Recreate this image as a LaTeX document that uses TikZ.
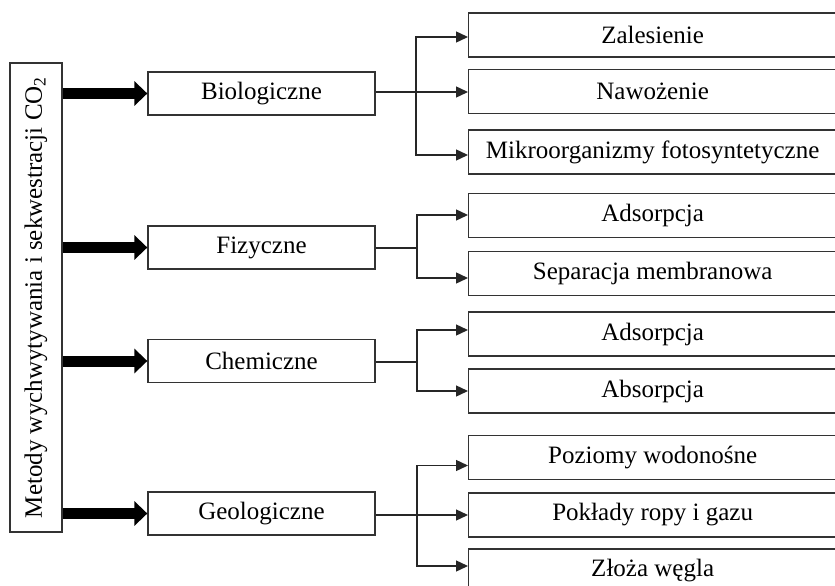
\documentclass[tikz,border=0pt]{standalone}
\usepackage{fontspec}
\setmainfont{Liberation Serif}
\usepackage{tikz}
\usetikzlibrary{arrows.meta,positioning}

\begin{document}
\begin{tikzpicture}[x=1pt,y=-1pt,
	box/.style={draw=black!80,line width=1.3pt,rectangle,inner sep=0pt,font=\fontsize{25}{30}\selectfont},
	catbox/.style={box,minimum width=227pt,minimum height=43pt},
	leaf/.style={box,anchor=west,minimum width=368pt,minimum height=44pt},
	fat/.style={line width=11pt,-{Triangle[length=13pt,width=24pt]}},
	thin/.style={line width=1.4pt,black!85,-{Triangle[length=12pt,width=11pt]}}]
	\clip (0,0) rectangle (835,586);
	\node[box,rotate=90,minimum width=469pt,minimum height=52pt] (M) at (36,297.5) {Metody wychwytywania i sekwestracji CO\textsubscript{2}};
	%
	\node[catbox] (B) at (261.5,93.5) {Biologiczne};
	\node[catbox] (F) at (261.5,247.5) {Fizyczne};
	\node[catbox] (C) at (261.5,361) {Chemiczne};
	\node[catbox] (G) at (261.5,513.5) {Geologiczne};
	%
	\node[leaf] (Z) at (468,35) {Zalesienie};
	\node[leaf] (N) at (468,91.5) {Nawożenie};
	\node[leaf] (Mk) at (468,152) {Mikroorganizmy fotosyntetyczne};
	\node[leaf] (A1) at (468,215.5) {Adsorpcja};
	\node[leaf] (S) at (468,273.5) {Separacja membranowa};
	\node[leaf] (A2) at (468,334) {Adsorpcja};
	\node[leaf] (Ab) at (468,391) {Absorpcja};
	\node[leaf] (P) at (468,457.5) {Poziomy wodonośne};
	\node[leaf] (R) at (468,515) {Pokłady ropy i gazu};
	\node[leaf] (W) at (468,571) {Złoża węgla};
	%
	\coordinate (bj) at (416,92);
	\coordinate (fj) at (417,248);
	\coordinate (cj) at (417,362);
	\coordinate (gj) at (417,515);
	%
	\draw[fat] (M.south |- B.west) -- (B.west);
	\draw[fat] (M.south |- F.west) -- (F.west);
	\draw[fat] (M.south |- C.west) -- (C.west);
	\draw[fat] (M.south |- G.west) -- (G.west);
	%
	\draw[thin] (B.east |- bj) -- (bj) -- (N.west |- bj);
	\draw[thin] (bj) |- ([yshift=-2pt]Z.west);
	\draw[thin] (bj) |- ([yshift=-3pt]Mk.west);
	\draw[thin] (F.east |- fj) -- (fj) |- ([yshift=0.5pt]A1.west);
	\draw[thin] (fj) |- ([yshift=-4.5pt]S.west);
	\draw[thin] (C.east |- cj) -- (cj) |- ([yshift=4pt]A2.west);
	\draw[thin] (cj) |- (Ab.west);
	\draw[thin] (G.east |- gj) -- (gj) -- (R.west);
	\draw[thin] (gj) |- ([yshift=-8pt]P.west);
	\draw[thin] (gj) |- ([yshift=5pt]W.west);
\end{tikzpicture}
\end{document}
